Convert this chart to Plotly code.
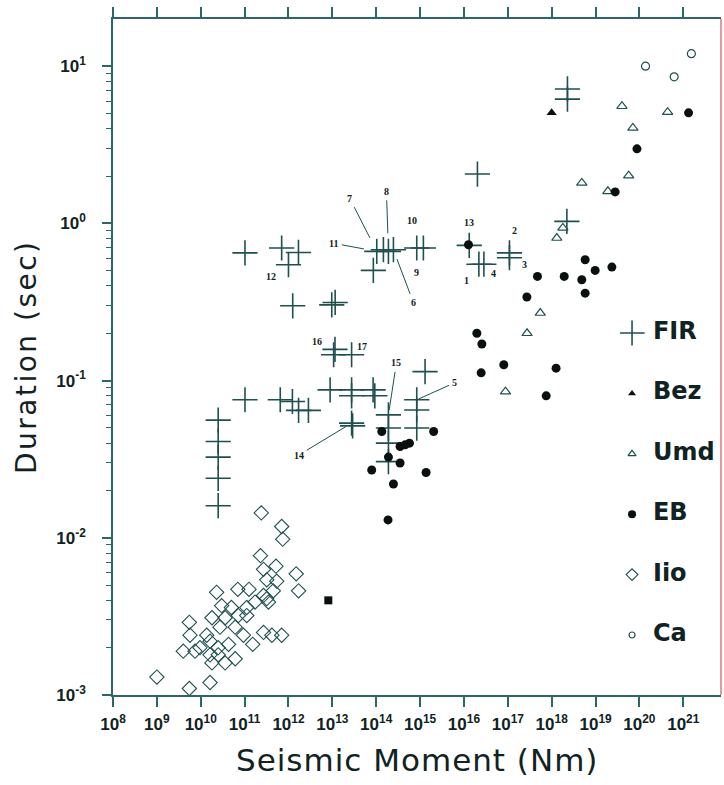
import math
import plotly.graph_objects as go

# ---------------- data: seismic moment (N m) vs source duration (s) ----------------
fir_moment = [2.5e10, 2.5e10, 2.5e10, 2.5e10, 2.5e10,
              1.02e11, 6.5e11, 1.23e12, 1.7e12, 2.85e12,
              8.9e12, 2.75e13, 2.75e13, 8.5e13, 9.3e13,
              1.15e13, 1.07e13, 2.75e13, 2.75e13, 2.9e13,
              1.3e15, 8.4e14, 8.4e14, 8.4e14, 1.9e14, 1.9e14, 1.9e14, 1.9e14,
              1.02e11, 7.0e11, 1.69e12, 1.0e12, 1.25e12, 9.7e12, 1.16e13,
              1.03e14, 1.46e14, 1.9e14, 2.47e14, 8.6e13, 8.4e14, 1.19e15,
              1.32e16, 2.19e16, 2.85e16, 1.09e17, 1.09e17, 2.03e16,
              2.22e18, 2.29e18, 2.29e18]
fir_duration = [0.056, 0.041, 0.0326, 0.0239, 0.016,
                0.0755, 0.0755, 0.0736, 0.0646, 0.0646,
                0.0873, 0.0873, 0.080, 0.0873, 0.080,
                0.158, 0.146, 0.146, 0.0536, 0.0515,
                0.114, 0.0755, 0.065, 0.0499, 0.0605, 0.0499, 0.040, 0.0305,
                0.649, 0.697, 0.653, 0.546, 0.299, 0.303, 0.314,
                0.664, 0.68, 0.664, 0.68, 0.502, 0.697, 0.697,
                0.724, 0.55, 0.55, 0.649, 0.605, 2.06,
                1.03, 7.16, 6.17]

bez_moment = [1.0e18]
bez_duration = [5.05]

umd_moment = [4.0e19, 4.4e20, 7.1e19, 5.7e19, 4.86e18, 1.91e19,
              1.8e18, 1.31e18, 5.5e17, 2.75e17, 8.85e16]
umd_duration = [5.56, 5.1, 4.05, 2.01, 1.81, 1.6,
                0.935, 0.807, 0.269, 0.2, 0.085]

eb_moment = [1.27e16, 1.97e16, 2.56e16, 8.1e16, 2.47e16,
             1.34e14, 2.04e15, 3.5e14, 4.56e14, 5.73e14,
             1.9e14, 3.5e14, 7.9e13, 1.37e15, 2.47e14, 1.86e14,
             1.26e18, 7.5e17,
             1.32e21, 8.8e19, 2.8e19, 5.8e18, 9.8e18, 2.36e19,
             1.93e18, 4.86e18, 4.74e17, 5.8e18, 2.72e17]
eb_duration = [0.731, 0.2, 0.171, 0.126, 0.112,
               0.0474, 0.0474, 0.0381, 0.039, 0.040,
               0.0326, 0.0299, 0.027, 0.026, 0.022, 0.013,
               0.12, 0.08,
               5.05, 2.98, 1.585, 0.587, 0.502, 0.527,
               0.46, 0.438, 0.46, 0.36, 0.34]

eb_square_moment = [8.1e12]
eb_square_duration = [0.004]

iio_moment = [2.4e11, 7.0e11, 7.4e11, 2.3e11, 5.2e11, 2.7e11, 3.2e11, 5.4e11,
              1.5e12, 1.7e12, 4.5e11, 7.0e10, 1.26e11, 2.3e10, 3.0e10, 1.8e10,
              3.6e10, 7.2e10, 1.12e11, 1.73e11, 2.7e11, 3.5e11, 5.5e9, 5.7e9,
              1.37e10, 9.6e9, 4.0e9, 7.4e9, 2.5e10, 4.3e10, 6.1e10, 1.12e11,
              9.4e10, 1.53e11, 2.7e11, 4.2e11, 7.0e11, 1.63e10, 2.5e10, 3.6e10,
              1.8e10, 6.1e10, 1.0e9, 5.5e9, 1.63e10, 2.75e10, 1.63e10, 3.2e11,
              5.0e10]
iio_duration = [0.0144, 0.0118, 0.0098, 0.0077, 0.0066, 0.0063, 0.0054, 0.0053,
                0.0059, 0.0046, 0.0046, 0.0047, 0.0047, 0.0045, 0.0037, 0.0031,
                0.0031, 0.0032, 0.0036, 0.0039, 0.0043, 0.0039, 0.0029, 0.0024,
                0.0024, 0.0020, 0.0019, 0.0019, 0.0020, 0.0021, 0.0027, 0.0032,
                0.0024, 0.0021, 0.0025, 0.0024, 0.0024, 0.0018, 0.0018, 0.0016,
                0.0016, 0.0017, 0.0013, 0.0011, 0.0012, 0.0027, 0.0022, 0.0041,
                0.0036]

ca_moment = [1.38e20, 6.2e20, 1.53e21]
ca_duration = [10.0, 8.55, 12.0]

# event numbers attached to FIR crosses: (text, FIR index, offset x, offset y, leader line, standoff)
event_labels = [
    ("1", 43, -12, 16, False, 0), ("2", 45, 5, -22, False, 0),
    ("3", 46, 15, 7, False, 0), ("4", 44, 10, 9, False, 0),
    ("5", 21, 38, -17, True, 2), ("6", 38, 20, 53, True, 10),
    ("7", 35, -27, -53, True, 15), ("8", 37, -2, -60, True, 18),
    ("9", 41, -7, 24, False, 0), ("10", 40, -5, -28, False, 0),
    ("11", 35, -43, -8, True, 13), ("12", 31, -17, 12, False, 0),
    ("13", 42, 0, -23, False, 0), ("14", 18, -53, 32, True, 7),
    ("15", 24, 8, -52, True, 5), ("16", 15, -18, -8, False, 0),
    ("17", 17, 10, -8, False, 0),
]

legend_names = ["FIR", "Bez", "Umd", "EB", "Iio", "Ca"]

x_tick_exp = list(range(8, 22))
y_tick_exp = list(range(-3, 2))

# ---------------- styling ----------------
AXIS = "#2a6868"
INK = "#102222"
MARK = "#1f5050"
BLACK = "#0a1010"
FONT = "DejaVu Sans"
TICKFONT = "Liberation Sans"

styles = {
    "FIR": dict(symbol="cross-thin-open", size=18, line=dict(color=MARK, width=1.6), color=MARK),
    "Bez": dict(symbol="triangle-up", size=9, color=BLACK, line=dict(width=0)),
    "Umd": dict(symbol="triangle-up-open", size=9, color=MARK, line=dict(color=MARK, width=1.2)),
    "EB": dict(symbol="circle", size=9, color=BLACK, line=dict(width=0)),
    "Iio": dict(symbol="diamond-open", size=11, color=MARK, line=dict(color=MARK, width=1.1)),
    "Ca": dict(symbol="circle-open", size=8, color=MARK, line=dict(color=MARK, width=1.2)),
}
legend_sizes = {"FIR": 18, "Bez": 7, "Umd": 7, "EB": 8, "Iio": 9, "Ca": 6}

series = {
    "Iio": (iio_moment, iio_duration),
    "Umd": (umd_moment, umd_duration),
    "Ca": (ca_moment, ca_duration),
    "FIR": (fir_moment, fir_duration),
    "Bez": (bez_moment, bez_duration),
    "EB": (eb_moment, eb_duration),
}

fig = go.Figure()
for name, (mx, dy) in series.items():
    fig.add_trace(go.Scatter(x=mx, y=dy, mode="markers", name=name,
                             marker=styles[name], hoverinfo="x+y+name"))

fig.add_trace(go.Scatter(x=eb_square_moment, y=eb_square_duration, mode="markers",
                         marker=dict(symbol="square", size=8, color=BLACK), name="EB"))

# key drawn on its own small hidden axes at the right of the frame
for i, name in enumerate(legend_names):
    st = dict(styles[name])
    st["size"] = legend_sizes[name]
    fig.add_trace(go.Scatter(x=[0.12], y=[i], mode="markers", marker=st,
                             xaxis="x2", yaxis="y2", hoverinfo="skip"))
fig.add_trace(go.Scatter(x=[0.33] * len(legend_names), y=list(range(len(legend_names))),
                         mode="text", text=[f"<b>{n}</b>" for n in legend_names],
                         textposition="middle right",
                         textfont=dict(family=FONT, size=24, color=INK),
                         xaxis="x2", yaxis="y2", hoverinfo="skip"))

# numbered event labels with leader lines
annotations = []
for text, idx, ox, oy, line, stand in event_labels:
    lx = math.log10(fir_moment[idx])
    ly = math.log10(fir_duration[idx])
    common = dict(x=lx, y=ly, xref="x", yref="y", text=f"<b>{text}</b>",
                  font=dict(family="Liberation Serif", size=10, color=INK))
    if line:
        annotations.append(dict(common, showarrow=True, ax=ox, ay=oy, axref="pixel",
                                ayref="pixel", arrowhead=0, arrowwidth=1,
                                arrowcolor=MARK, standoff=stand, startstandoff=2))
    else:
        annotations.append(dict(common, showarrow=False, xshift=ox, yshift=-oy))

annotations.append(dict(text='<span style="letter-spacing:1px">Seismic Moment (Nm)</span>',
                        xref="paper", yref="paper",
                        x=0.5, y=-0.096, showarrow=False, xanchor="center", yanchor="middle",
                        font=dict(family=FONT, size=31, color=INK)))
annotations.append(dict(text='<span style="letter-spacing:2.5px">Duration (sec)</span>',
                        xref="paper", yref="paper",
                        x=-0.143, y=0.5, showarrow=False, textangle=-90,
                        xanchor="center", yanchor="middle",
                        font=dict(family=FONT, size=28, color=INK)))

minor_vals = [m * 10.0 ** e for e in range(-3, 2) for m in range(2, 10)]

fig.update_layout(
    width=724, height=785,
    margin=dict(l=113, r=3, t=19, b=90, pad=0),
    paper_bgcolor="white", plot_bgcolor="white",
    showlegend=False,
    font=dict(family=FONT, color=INK),
    annotations=annotations,
    xaxis=dict(type="log", range=[8, 21.86], tickmode="array",
               tickvals=[10.0 ** e for e in x_tick_exp],
               ticktext=[f"<b>10<sup>{e}</sup></b>" for e in x_tick_exp],
               ticks="outside", ticklen=10, tickwidth=1.5, tickcolor=AXIS,
               showline=True, linecolor=AXIS, linewidth=1.5, mirror="ticks",
               showgrid=False, zeroline=False, ticklabelstandoff=3,
               tickfont=dict(family=TICKFONT, size=17, color=INK)),
    yaxis=dict(type="log", range=[-3, 1.30], tickmode="array",
               tickvals=[10.0 ** e for e in y_tick_exp],
               ticktext=[f"<b>10<sup>{e}</sup></b>" for e in y_tick_exp],
               ticks="outside", ticklen=9, tickwidth=1.5, tickcolor=AXIS,
               showline=True, linecolor=AXIS, linewidth=1.5, mirror=False,
               showgrid=False, zeroline=False, ticklabelstandoff=13,
               tickfont=dict(family=TICKFONT, size=17, color=INK),
               minor=dict(tickvals=minor_vals, ticks="outside", ticklen=5,
                          tickwidth=1.2, tickcolor=AXIS, showgrid=False)),
    xaxis2=dict(domain=[0.834, 0.998], range=[0, 1], anchor="y2", visible=False,
                fixedrange=True),
    yaxis2=dict(domain=[0.0666, 0.5547], range=[5.248, -0.215], anchor="x2",
                visible=False, fixedrange=True),
    shapes=[dict(type="line", xref="paper", yref="paper", x0=1, x1=1, y0=0, y1=1,
                 line=dict(color="#e07878", width=1.5))],
)

fig.write_html("out.html", config={"displayModeBar": False})
